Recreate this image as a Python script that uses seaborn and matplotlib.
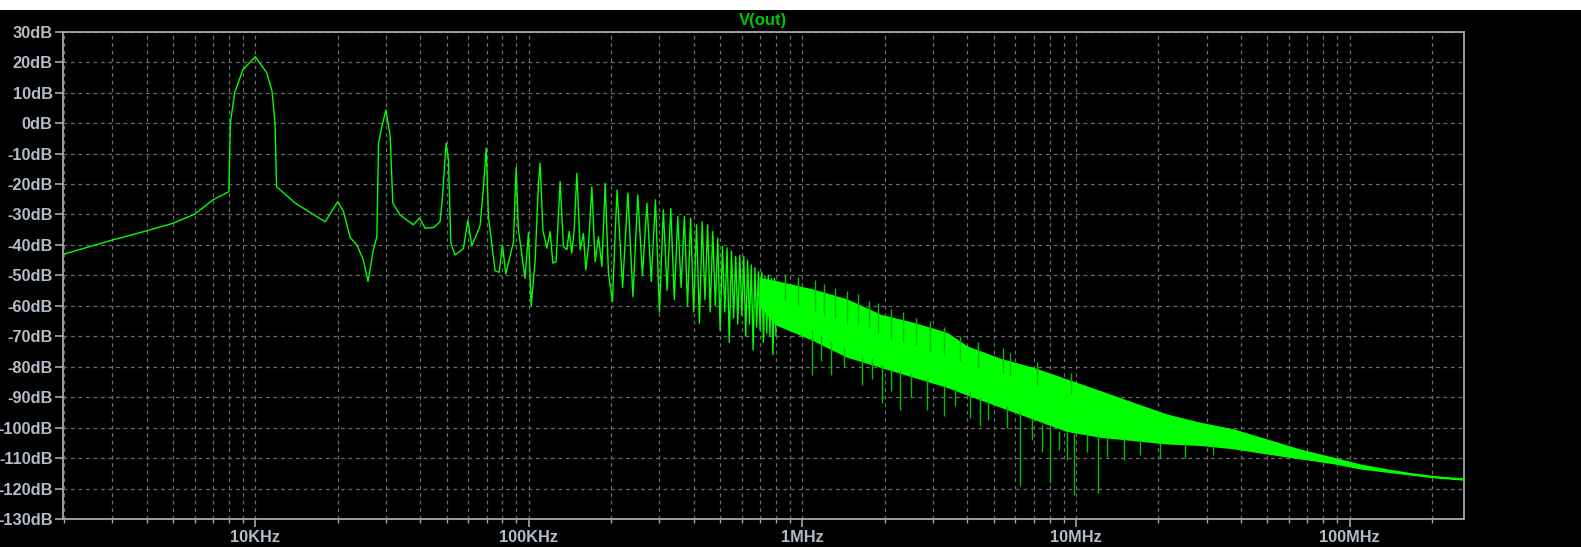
import matplotlib
matplotlib.use("Agg")
import matplotlib.pyplot as plt
import numpy as np
import pandas as pd
import seaborn as sns
from matplotlib.patches import Rectangle
from matplotlib.ticker import FixedLocator, LogLocator, NullFormatter, NullLocator

# ---- data (frequency in kHz, level in dB) ----
# single trace from 2 kHz up to ~210 kHz
trace_khz = [2.0, 3.0, 4.0, 5.0, 6.0, 7.0, 8.0, 8.1, 8.4, 9.0, 10.0, 11.0, 11.5, 11.8,
             11.95, 14.0, 16.0, 18.0, 20.0, 21.0, 22.2, 23.5, 24.8, 25.8, 27.0, 27.8,
             28.2, 29.0, 30.0, 31.1, 31.8, 33.8, 37.8, 39.8, 41.7, 44.8, 47.3, 48.3,
             49.8, 50.8, 51.8, 53.7, 57.6, 59.8, 61.8, 66.3, 68.2, 69.8, 71.1, 75.2,
             77.8, 80.0, 82.3, 87.8, 89.8, 91.5, 96.8, 99.6, 101.9, 105.4, 108.3, 109.9,
             112.4, 116.3, 119.5, 122.3, 125.7, 130.0, 133.7, 137.6, 140.3, 143.5, 146.3,
             149.7, 153.9, 158.2, 161.4, 165.0, 169.8, 174.6, 179.5, 184.8, 190.0, 195.3,
             202.0, 206.7]
trace_db = [-43.0, -38.4, -35.4, -32.9, -29.9, -25.2, -22.5, 0.0, 10.0, 17.5, 21.8, 16.5,
            10.5, 0.0, -20.9, -26.3, -29.6, -32.4, -25.8, -29.1, -37.6, -40.0, -44.9,
            -52.0, -41.6, -37.3, -6.6, -1.2, 4.3, -4.4, -26.3, -30.2, -33.4, -31.2, -34.5,
            -34.3, -32.4, -24.2, -6.6, -12.0, -39.4, -43.3, -41.2, -31.8, -40.3, -33.7,
            -20.9, -8.2, -30.7, -48.5, -49.0, -40.0, -49.5, -39.0, -14.6, -35.0, -51.0,
            -36.0, -60.0, -44.9, -19.8, -13.2, -35.1, -41.1, -35.6, -46.0, -45.5, -19.2,
            -40.5, -41.6, -35.6, -42.7, -35.1, -16.5, -41.6, -36.2, -48.2, -40.5, -20.9,
            -45.5, -37.3, -47.1, -19.8, -49.3, -58.6, -36.2]

# harmonic comb 210 kHz .. 800 kHz (peaks at odd, dips at even multiples of 10 kHz)
comb_khz = [210, 220, 230, 240, 250, 260, 270, 280, 290, 300, 310, 320, 330, 340, 350,
            360, 370, 380, 390, 400, 410, 420, 430, 440, 450, 460, 470, 480, 490, 500,
            510, 520, 530, 540, 550, 560, 570, 580, 590, 600, 610, 620, 630, 640, 650,
            660, 670, 680, 690, 700, 710, 720, 730, 740, 750, 760, 770, 780, 790, 800]
comb_db = [-22.0, -54.0, -23.0, -57.0, -23.6, -50.0, -26.3, -52.0, -25.2, -62.0, -28.5,
           -55.0, -28.0, -58.0, -30.7, -54.0, -30.7, -60.0, -31.2, -62.0, -33.4, -65.7,
           -32.4, -58.0, -33.4, -62.0, -35.6, -60.0, -37.8, -68.0, -40.5, -62.0, -41.0,
           -72.0, -42.0, -64.0, -43.8, -66.0, -43.5, -63.0, -43.8, -70.0, -45.0, -66.0,
           -46.6, -74.5, -47.5, -67.0, -48.8, -68.0, -49.0, -72.0, -50.4, -69.0, -50.0,
           -70.0, -51.0, -76.0, -51.0, -70.0]

# dense band from ~0.7 MHz: upper and lower edge of the solid part
band_mhz = [0.70, 0.80, 1.097, 1.453, 1.924, 2.546, 3.373, 3.991, 5.284, 6.99, 9.26,
            12.26, 16.23, 21.5, 28.46, 37.7, 49.9, 66.0, 87.4, 109.4, 137.0, 166.7, 202.8,
            262.0]
band_top = [-51.0, -52.0, -54.8, -58.0, -63.0, -65.7, -69.0, -73.4, -77.5, -80.5,
            -84.3, -88.1, -92.0, -95.8, -98.5, -100.7, -104.0, -107.3, -110.0, -112.2,
            -113.8, -115.0, -116.0, -116.8]
band_bot = [-60.0, -66.0, -71.2, -76.6, -79.9, -83.2, -86.5, -89.0, -93.0, -97.0,
            -101.0, -102.9, -104.0, -105.1, -105.6, -106.7, -108.4, -110.0, -111.6, -113.3,
            -114.4, -115.3, -116.2, -117.0]

# isolated spikes sticking out of the band
down_mhz = [1.082, 1.17, 1.270, 1.42, 1.649, 1.80, 1.951, 2.10, 2.276, 2.50, 2.850, 3.278,
            3.60, 4.10, 4.463, 4.786, 5.60, 6.215, 6.918, 7.50, 8.0, 8.63, 9.26, 9.85,
            11.0, 12.08, 12.97, 14.92, 17.17, 20.3, 25.1, 31.7]
down_tip = [-82.7, -78.0, -82.7, -80.0, -86.0, -84.0, -92.0, -88.0, -94.1, -90.0, -94.1,
            -96.3, -93.0, -97.0, -99.6, -97.4, -100.0, -119.3, -104.0, -108.0, -118.2,
            -107.3, -110.6, -122.0, -108.0, -121.5, -109.5, -110.6, -109.0, -110.0, -110.0,
            -109.0]
down_base = [-68.0, -70.0, -72.0, -74.0, -76.0, -77.0, -79.0, -80.0, -81.0, -82.0, -84.0,
             -86.0, -87.0, -88.0, -90.0, -91.0, -93.0, -95.0, -97.0, -99.0, -100.0, -101.0,
             -101.5, -102.0, -102.3, -102.5, -103.0, -103.5, -104.0, -105.0, -105.2, -105.5]
up_mhz = [0.864, 0.964, 1.113, 1.20, 1.317, 1.45, 1.598, 1.75, 1.891, 2.10, 2.334, 2.60,
          2.931, 3.30, 3.772, 4.40, 5.42, 5.74, 7.20, 9.60]
up_tip = [-49.5, -50.5, -51.5, -53.0, -54.0, -55.0, -56.0, -58.5, -59.0, -61.0, -62.0,
          -64.0, -65.0, -67.0, -70.0, -72.0, -74.0, -75.5, -78.5, -82.0]
up_base = [-58.0, -60.0, -62.0, -63.0, -64.0, -66.0, -66.0, -67.0, -69.0, -71.0, -72.0,
           -73.0, -75.0, -76.0, -78.0, -80.0, -82.0, -83.0, -86.0, -89.0]

db_ticks = list(range(30, -131, -10))
freq_ticks = [1e4, 1e5, 1e6, 1e7, 1e8]
freq_labels = ["10KHz", "100KHz", "1MHz", "10MHz", "100MHz"]

GREEN = "#00ff00"
GRID = "#6c6c6c"
FRAME = "#a8a8a8"
LABEL = "#b4bcc6"

sns.set_theme(style="dark")
plt.rcParams["font.family"] = ["Liberation Sans", "DejaVu Sans"]

W, H = 1581, 547
fig = plt.figure(figsize=(W / 100, H / 100), dpi=100)
fig.patch.set_facecolor("black")
fig.add_artist(Rectangle((0, 1 - 10 / H), 1, 10 / H, transform=fig.transFigure,
                         facecolor="white", edgecolor="none"))
ax = fig.add_axes([63 / W, 1 - 519 / H, (1464 - 63) / W, (519 - 31.7) / H])
ax.set_facecolor("black")
ax.set_xscale("log")

line = pd.DataFrame({
    "freq": [f * 1e3 for f in trace_khz + comb_khz],
    "db": trace_db + comb_db,
})
sns.lineplot(data=line, x="freq", y="db", ax=ax, color=GREEN, lw=1.0,
             sort=False, estimator=None, zorder=4)

band_f = [f * 1e6 for f in band_mhz]
ax.fill_between(band_f, band_bot, band_top, color=GREEN, lw=1.2, zorder=3)
ax.vlines([f * 1e6 for f in down_mhz], down_tip, down_base, color="#00c000", lw=1.0, zorder=3)
ax.vlines([f * 1e6 for f in up_mhz], up_base, up_tip, color="#00c000", lw=1.0, zorder=3)

ax.set_xlim(1.98e3, 262e6)
ax.set_ylim(-130, 30)
ax.set_xlabel("")
ax.set_ylabel("")

ax.xaxis.set_major_locator(FixedLocator(freq_ticks))
ax.set_xticklabels(freq_labels)
ax.xaxis.set_minor_locator(LogLocator(base=10, subs=range(2, 10), numticks=30))
ax.xaxis.set_minor_formatter(NullFormatter())
ax.set_yticks(db_ticks)
ax.set_yticklabels([f"{v}dB" for v in db_ticks])
ax.yaxis.set_minor_locator(NullLocator())

ax.grid(True, which="both", color=GRID, linestyle=(0, (3, 3)), linewidth=0.9)
ax.set_axisbelow(True)
for s in ax.spines.values():
    s.set_color(FRAME)
    s.set_linewidth(1.3)
    s.set_visible(True)

ax.tick_params(axis="both", which="major", colors=FRAME, labelcolor=LABEL, length=6,
               width=1.2, labelsize=11.8, direction="out")
ax.tick_params(axis="x", which="minor", colors=FRAME, length=3, width=1.0, direction="out")
ax.tick_params(axis="y", pad=1.5)
ax.tick_params(axis="x", pad=2)
ax.tick_params(left=True, bottom=True)
ax.tick_params(axis="x", which="minor", bottom=True)
for lab in ax.get_xticklabels() + ax.get_yticklabels():
    lab.set_fontweight("bold")

fig.text(763.5 / W, 1 - 20 / H, "V(out)", color="#00c800", fontsize=12,
         fontweight="bold", ha="center", va="center")

fig.savefig("out.png", dpi=100, facecolor=fig.get_facecolor())
